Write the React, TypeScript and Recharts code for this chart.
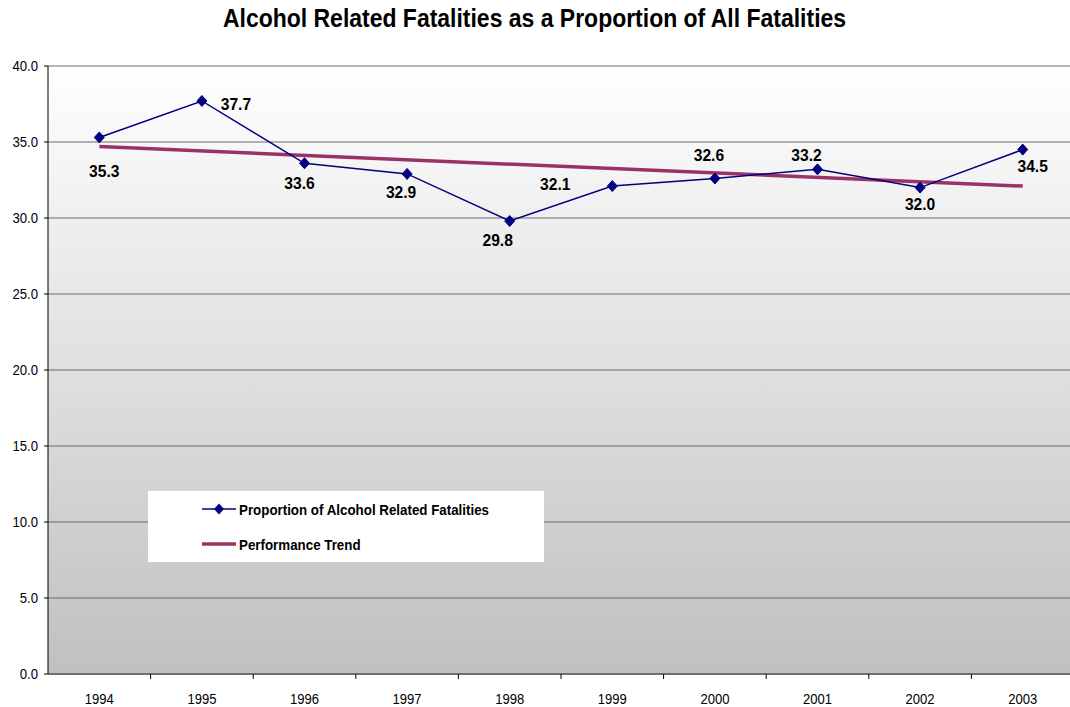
import { LineChart, Line, XAxis, YAxis, CartesianGrid, LabelList } from "recharts";

const years = ["1994", "1995", "1996", "1997", "1998", "1999", "2000", "2001", "2002", "2003"];
const alcoholShare = [35.3, 37.7, 33.6, 32.9, 29.8, 32.1, 32.6, 33.2, 32.0, 34.5];
// trend line end points (straight line between them)
const trendValues = [34.7, null, null, null, null, null, null, null, null, 32.1];
const yTicks = [0, 5, 10, 15, 20, 25, 30, 35, 40];

// where each value label sits relative to its marker: [dx, dy]
const labelOffsets = [
  [5, 33], [34, 3], [-5, 19], [-6, 18], [-12, 19],
  [-57, -2], [-6, -24], [-11, -15], [0, 16], [10, 16],
];

const data = years.map((year, i) => ({
  year,
  share: alcoholShare[i],
  trend: trendValues[i],
}));

const NAVY = "#000080";
const TREND = "#993366";

// text squeezed horizontally like the original export
function SqText(props: any) {
  const { x, y, size, sx = 1, anchor = "start", bold, baseline, children } = props;
  return (
    <text
      transform={`translate(${x},${y}) scale(${sx},1)`}
      textAnchor={anchor}
      dominantBaseline={baseline}
      fontSize={size}
      fontWeight={bold ? "bold" : "normal"}
      fill="#000"
    >
      {children}
    </text>
  );
}

function Diamond(props: any) {
  const { cx, cy, index } = props;
  if (cx == null || cy == null) return <g key={`d-${index}`} />;
  return (
    <path
      key={`d-${index}`}
      d={`M${cx},${cy - 5.5} L${cx + 5},${cy} L${cx},${cy + 5.5} L${cx - 5},${cy} Z`}
      fill={NAVY}
      stroke={NAVY}
    />
  );
}

function ValueLabel(props: any) {
  const { x, y, value, index } = props;
  const [dx, dy] = labelOffsets[index] || [0, -15];
  return (
    <SqText x={x + dx} y={y + dy} size={17} sx={0.92} anchor="middle" baseline="central" bold>
      {Number(value).toFixed(1)}
    </SqText>
  );
}

function YearTick(props: any) {
  const { x, y, payload, index, width, visibleTicksCount } = props;
  const half = payload.offset || (width && visibleTicksCount ? width / visibleTicksCount / 2 : 51.3);
  return (
    <g>
      {index > 0 && (
        <line x1={x - half} x2={x - half} y1={y} y2={y + 5} stroke="#000" />
      )}
      <SqText x={x} y={y + 29.5} size={15} sx={0.87} anchor="middle">
        {payload.value}
      </SqText>
    </g>
  );
}

function ValueTick(props: any) {
  const { x, y, payload } = props;
  return (
    <SqText x={x} y={y + 5} size={14} sx={0.94} anchor="end">
      {Number(payload.value).toFixed(1)}
    </SqText>
  );
}

export default function App() {
  return (
    <div
      style={{
        position: "absolute",
        left: 0,
        top: 0,
        width: 1070,
        height: 707,
        overflow: "hidden",
        background: "#fff",
        fontFamily: "'Liberation Sans', Arial, sans-serif",
      }}
    >
      <svg width={1070} height={40} style={{ position: "absolute", left: 0, top: 0 }}>
        <defs>
          <linearGradient id="plotBg" x1="0" y1="0" x2="0" y2="1">
            <stop offset="0%" stopColor="#ffffff" />
            <stop offset="100%" stopColor="#c0c0c0" />
          </linearGradient>
        </defs>
        <SqText x={534.5} y={27.3} size={26} sx={0.884} anchor="middle" bold>
          Alcohol Related Fatalities as a Proportion of All Fatalities
        </SqText>
      </svg>
      <div style={{ position: "absolute", left: 0, top: 0 }}>
        <LineChart
          width={1080}
          height={707}
          data={data}
          margin={{ top: 66, right: 6, bottom: 0, left: 0 }}
        >
          <CartesianGrid vertical={false} stroke="#6a6a6a" fill="url(#plotBg)" />
          <XAxis
            dataKey="year"
            height={33}
            padding={{ left: 51.3, right: 51.3 }}
            axisLine={{ stroke: "#707070", strokeWidth: 2 }}
            tickLine={false}
            tickSize={0}
            tickMargin={0}
            interval={0}
            tick={<YearTick />}
          />
          <YAxis
            width={48}
            domain={[0, 40]}
            ticks={yTicks}
            interval={0}
            axisLine={{ stroke: "#000" }}
            tickLine={{ stroke: "#000" }}
            tickSize={4}
            tickMargin={6}
            tick={<ValueTick />}
          />
          <Line
            dataKey="trend"
            stroke={TREND}
            strokeWidth={3.5}
            dot={false}
            activeDot={false}
            connectNulls
            isAnimationActive={false}
          />
          <Line
            dataKey="share"
            stroke={NAVY}
            strokeWidth={1.5}
            dot={Diamond}
            activeDot={false}
            isAnimationActive={false}
          >
            <LabelList dataKey="share" content={ValueLabel} />
          </Line>
        </LineChart>
      </div>
      <svg
        width={396}
        height={71}
        style={{ position: "absolute", left: 148, top: 491, background: "#fff" }}
      >
        <line x1={54} x2={88} y1={18} y2={18} stroke={NAVY} strokeWidth={1.5} />
        <path d="M71,12.5 L76,18 L71,23.5 L66,18 Z" fill={NAVY} />
        <SqText x={91} y={24} size={15} sx={0.89} bold>
          Proportion of Alcohol Related Fatalities
        </SqText>
        <line x1={54} x2={88} y1={53} y2={53} stroke={TREND} strokeWidth={3.5} />
        <SqText x={91} y={59} size={15} sx={0.89} bold>
          Performance Trend
        </SqText>
      </svg>
    </div>
  );
}
